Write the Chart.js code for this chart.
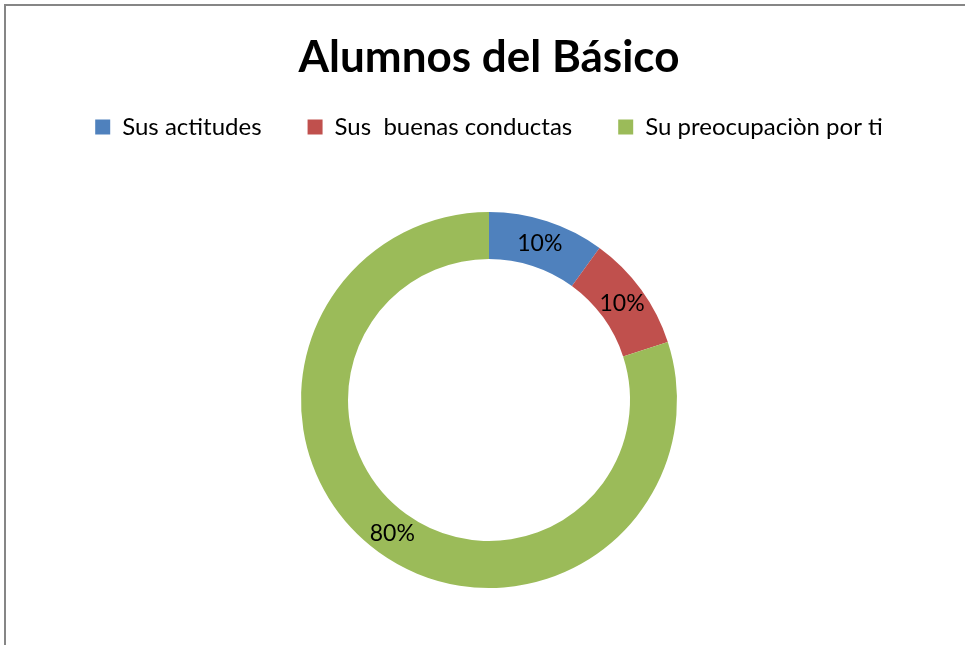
<!DOCTYPE html>
<html><head><meta charset="utf-8">
<script src="https://cdn.jsdelivr.net/npm/chart.js@4"></script>
<style>html,body{margin:0;padding:0;background:#fff;overflow:hidden;width:965px;height:645px}#wrap{position:relative;width:965px;height:645px;overflow:hidden}</style>
</head><body><div id="wrap"><canvas id="c" width="965" height="651"></canvas></div>
<script>
const categories = ['Sus actitudes', 'Sus  buenas conductas', 'Su preocupaciòn por ti'];
const values = [10, 10, 80];
const valueLabels = ['10%', '10%', '80%'];
const colors = ['#4F81BD', '#C0504D', '#9BBB59'];
const titleText = 'Alumnos del Básico';

const frame = {
  id: 'frame',
  beforeDraw(chart) {
    const ctx = chart.ctx;
    ctx.save();
    ctx.fillStyle = '#fff';
    ctx.fillRect(0, 0, chart.width, chart.height);
    ctx.strokeStyle = '#868686';
    ctx.lineWidth = 2;
    ctx.beginPath();
    ctx.moveTo(5, chart.height);
    ctx.lineTo(5, 5);
    ctx.lineTo(chart.width, 5);
    ctx.stroke();
    ctx.restore();
  }
};

const pctLabels = {
  id: 'pctLabels',
  afterDatasetsDraw(chart) {
    const ctx = chart.ctx;
    const meta = chart.getDatasetMeta(0);
    ctx.save();
    ctx.font = '23px Lato, "Open Sans", sans-serif';
    ctx.fillStyle = '#000';
    ctx.textAlign = 'center';
    ctx.textBaseline = 'middle';
    meta.data.forEach((arc, i) => {
      const p = arc.getCenterPoint();
      ctx.fillText(valueLabels[i], p.x, p.y);
    });
    ctx.restore();
  }
};

Chart.defaults.font.family = 'Lato, "Open Sans", sans-serif';
new Chart(document.getElementById('c'), {
  type: 'doughnut',
  data: {
    labels: categories,
    datasets: [{
      data: values,
      backgroundColor: colors,
      borderWidth: 0,
      radius: 188,
      cutout: '75%'
    }]
  },
  options: {
    responsive: false,
    animation: false,
    devicePixelRatio: 1,
    layout: { padding: { left: 13 } },
    plugins: {
      tooltip: { enabled: false },
      title: {
        display: true,
        text: titleText,
        color: '#000',
        font: { size: 44, weight: 'bold', lineHeight: 1 },
        padding: { top: 36, bottom: -11 }
      },
      legend: {
        display: true,
        position: 'top',
        labels: {
          color: '#000',
          font: { size: 24 },
          boxWidth: 15,
          boxHeight: 15,
          padding: 46
        }
      }
    }
  },
  plugins: [frame, pctLabels]
});
</script></body></html>
